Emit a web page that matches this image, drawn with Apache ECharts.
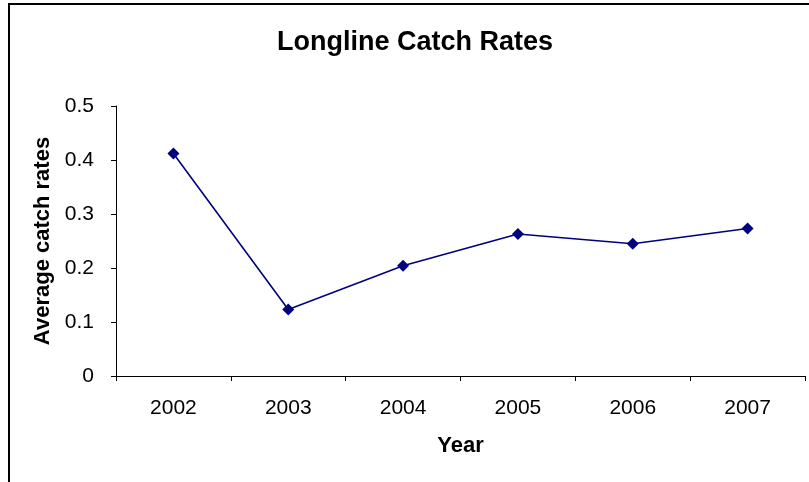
<!DOCTYPE html>
<html>
<head>
<meta charset="utf-8">
<script src="https://cdn.jsdelivr.net/npm/echarts@6/dist/echarts.min.js"></script>
<style>
  html, body { margin: 0; padding: 0; background: #fff; }
  #chart { width: 809px; height: 482px; }
</style>
</head>
<body>
<div id="chart"></div>
<script>
// Longline catch rates by year
const years = ['2002', '2003', '2004', '2005', '2006', '2007'];
const catchRates = [0.412, 0.123, 0.204, 0.263, 0.245, 0.273];
const yTicks = { min: 0, max: 0.5, interval: 0.1 };

const chart = echarts.init(document.getElementById('chart'));
const font = 'Liberation Sans, Arial, sans-serif';

chart.setOption({
  animation: false,
  backgroundColor: '#ffffff',
  title: {
    text: 'Longline Catch Rates',
    left: 272,
    top: 24,
    textStyle: { fontFamily: font, fontSize: 27, fontWeight: 'bold', color: '#000' }
  },
  graphic: [{
    type: 'rect',
    shape: { x: 9, y: 4, width: 900, height: 600 },
    style: { fill: 'none', stroke: '#000', lineWidth: 2 },
    silent: true
  }],
  grid: { left: 116, right: 4, top: 106, bottom: 106 },
  xAxis: {
    type: 'category',
    data: years,
    boundaryGap: true,
    name: 'Year',
    nameLocation: 'middle',
    nameGap: 59,
    nameTextStyle: { fontFamily: font, fontSize: 22, fontWeight: 'bold', color: '#000' },
    axisLine: { lineStyle: { color: '#000', width: 1 } },
    axisTick: { show: true, length: 5, inside: false, lineStyle: { color: '#000' } },
    axisLabel: { fontFamily: font, fontSize: 21, color: '#000', margin: 22 },
    splitLine: { show: false }
  },
  yAxis: {
    type: 'value',
    min: yTicks.min,
    max: yTicks.max,
    interval: yTicks.interval,
    name: 'Average catch rates',
    nameLocation: 'middle',
    nameGap: 61,
    nameRotate: 90,
    nameTextStyle: { fontFamily: font, fontSize: 22, fontWeight: 'bold', color: '#000' },
    axisLine: { show: true, lineStyle: { color: '#000', width: 1 } },
    axisTick: { show: true, length: 5, inside: false, lineStyle: { color: '#000' } },
    axisLabel: { fontFamily: font, fontSize: 21, color: '#000', margin: 22,
      formatter: v => String(Math.round(v * 10) / 10) },
    splitLine: { show: false }
  },
  series: [{
    type: 'line',
    data: catchRates,
    symbol: 'diamond',
    symbolSize: 12,
    lineStyle: { color: '#000080', width: 1.6 },
    itemStyle: { color: '#000080' }
  }]
});
</script>
</body>
</html>
